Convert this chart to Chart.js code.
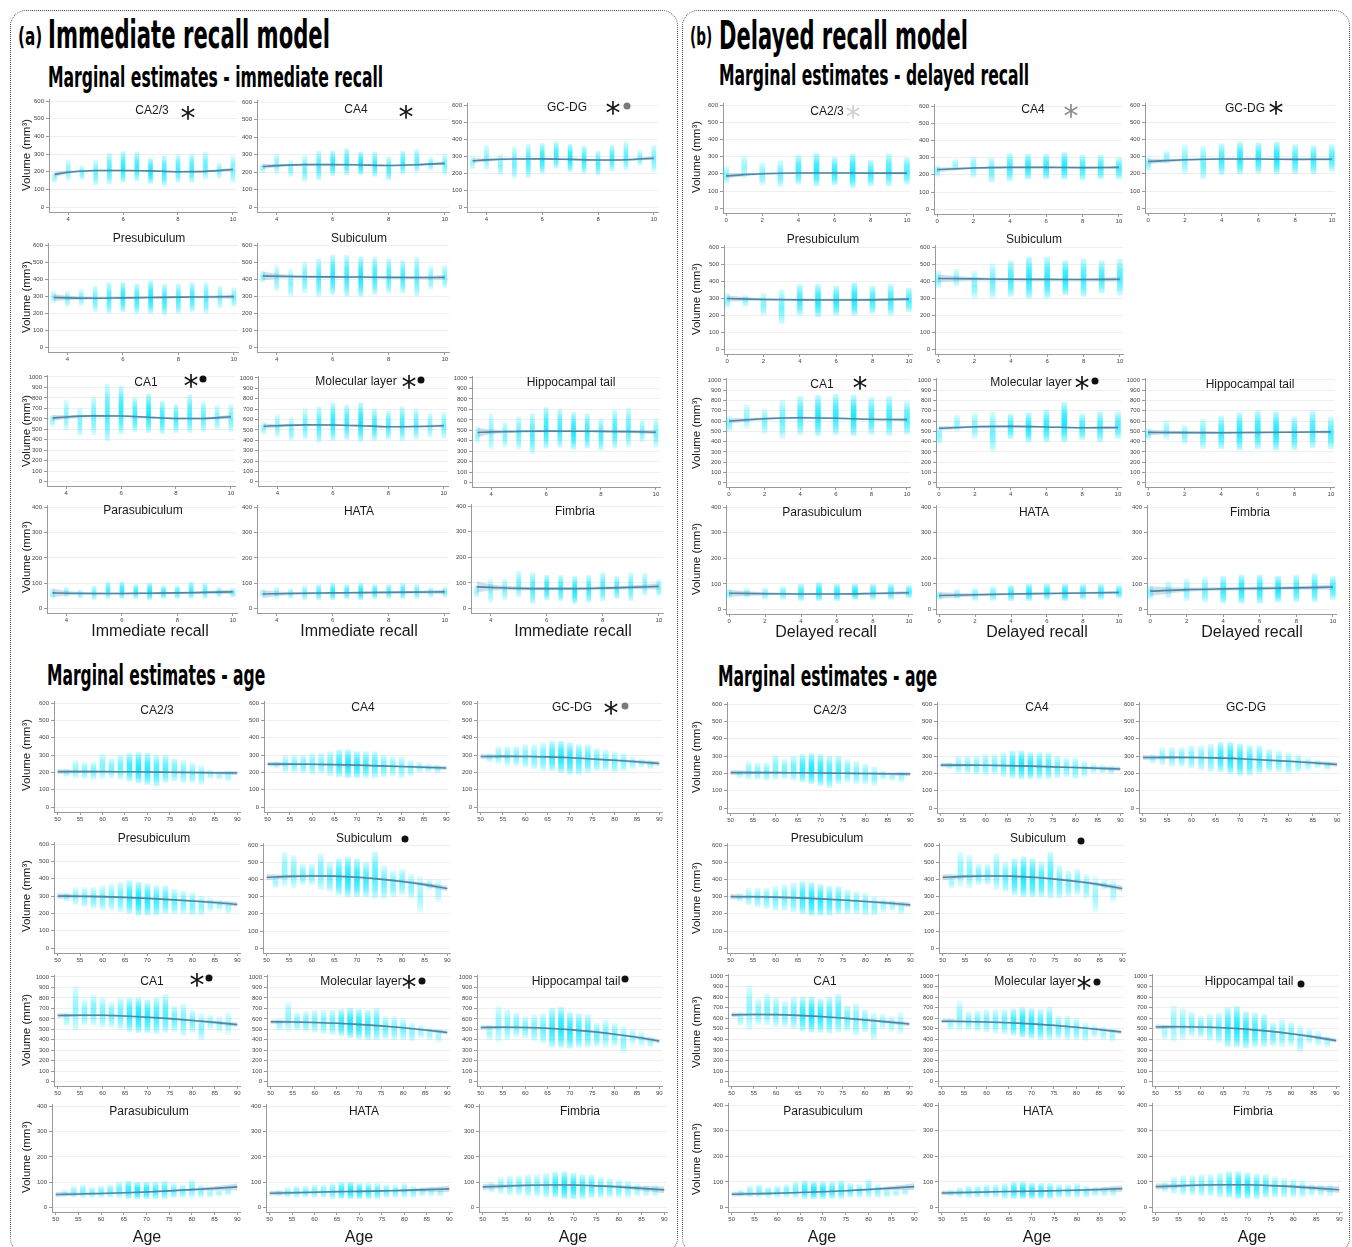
<!DOCTYPE html>
<html><head><meta charset="utf-8">
<script src="https://cdn.jsdelivr.net/npm/chart.js@4.4.1/dist/chart.umd.min.js"></script>
<style>
html,body{margin:0;padding:0;background:#fff;}
#root{position:relative;width:1352px;height:1247px;overflow:hidden;background:#fff;}
.box{position:absolute;border:1.6px dotted #555;border-radius:16px;box-sizing:border-box;}
.big{position:absolute;font-family:"Liberation Sans Narrow","DejaVu Sans Condensed",sans-serif;font-weight:bold;color:#000;line-height:1;white-space:nowrap;transform-origin:0 0;}
.pt{position:absolute;font-family:"Liberation Sans",Arial,sans-serif;font-size:12px;color:#1a1a1a;line-height:1;white-space:nowrap;transform:translate(-50%,-50%);}
.yt{position:absolute;font-family:"Liberation Sans",Arial,sans-serif;font-size:11.5px;color:#1a1a1a;line-height:1;white-space:nowrap;transform:translate(-50%,-50%) rotate(-90deg);}
.xt{position:absolute;font-family:"Liberation Sans",Arial,sans-serif;font-size:16px;color:#1a1a1a;line-height:1;white-space:nowrap;transform:translate(-50%,-50%);}
.ast{position:absolute;font-family:"DejaVu Sans",sans-serif;line-height:1;white-space:nowrap;transform:translateX(-50%);}
.dot{position:absolute;border-radius:50%;width:7px;height:7px;transform:translate(-50%,-50%);}
</style></head><body><div id="root"></div>
<script>
// ===================== DATA =====================
const regions = ['CA2/3','CA4','GC-DG','Presubiculum','Subiculum','CA1','Molecular layer','Hippocampal tail','Parasubiculum','HATA','Fimbria'];
const regionYmax = [600,600,600,600,600,1000,1000,1000,400,400,400];

const immX = [3.5,4,4.5,5,5.5,6,6.5,7,7.5,8,8.5,9,9.5,10];
const immFitX = [3.5,4,5,6,7,8,9,10];
const immTicks = [4,6,8,10];
const immCounts = [3,5,6,8,12,16,14,18,14,12,13,10,6,7];

const delX = [0,1,2,3,4,5,6,7,8,9,10];
const delFitX = [0,2,4,6,8,10];
const delTicks = [0,2,4,6,8,10];
const delCounts = [4,3,5,7,12,15,14,16,12,12,11];

const ageBins = [52,54,56,58,60,62,64,66,68,70,72,74,76,78,80,82,84,86,88];
const ageFitX = [50,55,60,65,70,75,80,85,90];
const ageTicks = [50,55,60,65,70,75,80,85,90];
const ageCounts = [2,5,7,8,8,8,10,18,22,20,16,14,10,8,8,6,3,2,2];

// --- Immediate recall model: marginal estimates of immediate recall ---
const immCA23Fit = [185,197,207,207,205,200,202,213];
const immCA23CI  = [15,8,5,5,5,5,5,10];
const immCA23Lo  = [140,150,155,125,130,140,150,135,120,140,140,160,165,140];
const immCA23Hi  = [195,265,235,265,305,315,310,275,290,295,300,310,250,290];
const immCA4Fit = [232,237,243,243,241,238,242,250];
const immCA4CI  = [14,9,5,5,5,5,6,10];
const immCA4Lo  = [195,190,175,145,155,180,185,185,175,155,190,200,210,185];
const immCA4Hi  = [250,305,265,295,320,320,335,315,315,285,320,330,285,305];
const immGCDGFit = [273,278,283,284,281,277,279,288];
const immGCDGCI  = [15,9,6,5,5,5,6,11];
const immGCDGLo  = [225,220,190,170,175,200,230,210,200,190,215,220,245,210];
const immGCDGHi  = [300,365,310,355,370,375,385,370,360,330,365,385,335,365];
const immPresubFit = [292,290,288,290,292,294,295,297];
const immPresubCI  = [20,12,7,6,6,6,7,12];
const immPresubLo  = [260,240,245,210,200,210,200,200,190,200,210,200,230,240];
const immPresubHi  = [330,330,340,360,380,380,370,390,370,370,380,380,360,350];
const immSubFit = [418,417,414,413,412,410,409,410];
const immSubCI  = [25,15,8,7,7,7,8,14];
const immSubLo  = [380,330,300,320,300,310,300,300,310,320,320,300,340,350];
const immSubHi  = [450,480,460,500,520,540,540,530,530,520,510,530,480,480];
const immCA1Fit = [608,618,628,627,615,603,604,620];
const immCA1CI  = [28,16,10,9,9,9,10,18];
const immCA1Lo  = [530,490,440,450,390,460,480,470,460,470,470,480,500,480];
const immCA1Hi  = [640,780,700,810,930,910,800,840,770,740,830,760,730,740];
const immMolFit = [535,540,548,547,540,530,532,540];
const immMolCI  = [25,14,9,8,8,8,9,15];
const immMolLo  = [460,430,400,410,380,400,410,390,400,410,400,410,430,420];
const immMolHi  = [580,650,620,700,720,760,740,760,700,680,720,700,660,670];
const immTailFit = [480,485,490,493,492,490,488,482];
const immTailCI  = [45,22,12,10,10,10,12,20];
const immTailLo  = [380,320,340,320,280,330,340,320,330,310,330,340,390,340];
const immTailHi  = [540,660,580,630,660,720,700,670,660,610,690,710,600,610];
const immParaFit = [62,61,60,60,61,62,64,66];
const immParaCI  = [17,9,5,4,4,4,5,9];
const immParaLo  = [40,45,40,35,40,40,40,35,40,40,40,40,45,45];
const immParaHi  = [80,85,75,90,105,105,95,100,90,90,105,100,85,80];
const immHATAFit = [58,59,61,62,63,64,65,66];
const immHATACI  = [16,9,5,4,4,4,5,9];
const immHATALo  = [45,40,40,35,35,35,40,35,40,40,40,40,45,45];
const immHATAHi  = [75,85,80,90,95,100,95,100,95,95,100,95,85,85];
const immFimFit = [85,83,79,78,78,80,83,87];
const immFimCI  = [22,12,7,6,6,6,7,12];
const immFimLo  = [45,25,35,45,20,35,30,20,25,30,40,30,50,50];
const immFimHi  = [90,115,115,145,140,130,130,125,130,140,125,140,140,115];

// --- Delayed recall model: marginal estimates of delayed recall ---
const delCA23Fit = [188,200,205,205,204,204];
const delCA23CI  = [14,6,5,5,5,8];
const delCA23Lo  = [145,175,135,125,140,130,135,120,130,130,140];
const delCA23Hi  = [245,305,265,275,310,320,295,315,280,315,295];
const delCA4Fit = [230,240,243,243,242,243];
const delCA4CI  = [13,6,5,5,5,8];
const delCA4Lo  = [190,225,185,155,165,175,175,175,170,175,175];
const delCA4Hi  = [255,290,305,300,325,320,320,330,315,315,300];
const delGCDGFit = [272,282,286,286,284,285];
const delGCDGCI  = [15,7,5,5,5,9];
const delGCDGLo  = [220,260,200,170,195,200,205,200,200,200,215];
const delGCDGHi  = [300,335,370,360,375,385,380,385,370,365,370];
const delPresubFit = [298,292,290,289,290,294];
const delPresubCI  = [18,8,6,6,6,10];
const delPresubLo  = [245,250,200,150,200,190,200,200,210,200,220];
const delPresubHi  = [330,320,330,350,380,380,370,390,370,380,360];
const delSubFit = [415,413,411,410,409,411];
const delSubCI  = [22,10,7,7,7,12];
const delSubLo  = [360,370,300,300,310,300,300,320,310,330,320];
const delSubHi  = [460,470,460,500,520,540,540,520,530,520,530];
const delCA1Fit = [600,622,632,628,617,614];
const delCA1CI  = [25,12,9,9,9,16];
const delCA1Lo  = [500,530,480,430,470,460,470,460,470,460,470];
const delCA1Hi  = [650,760,720,800,840,850,860,850,830,840,790];
const delMolFit = [530,545,548,543,535,537];
const delMolCI  = [20,10,8,8,8,13];
const delMolLo  = [380,500,430,310,430,400,400,400,420,400,430];
const delMolHi  = [550,660,680,690,670,680,710,780,670,690,690];
const delTailFit = [490,488,487,489,492,495];
const delTailCI  = [28,12,9,9,9,15];
const delTailLo  = [420,420,380,330,330,320,330,320,320,340,330];
const delTailHi  = [530,610,560,620,650,680,700,690,640,700,640];
const delParaFit = [64,62,61,61,63,66];
const delParaCI  = [14,6,4,4,4,7];
const delParaLo  = [45,45,40,40,35,35,35,40,40,40,45];
const delParaHi  = [80,85,85,90,100,105,100,100,100,100,95];
const delHATAFit = [55,58,61,63,65,67];
const delHATACI  = [13,6,4,4,4,7];
const delHATALo  = [40,40,35,35,35,35,40,35,40,40,45];
const delHATAHi  = [70,80,85,90,95,100,100,100,100,100,95];
const delFimFit = [72,78,81,83,85,88];
const delFimCI  = [18,8,6,6,6,10];
const delFimLo  = [40,45,35,30,25,25,25,30,30,30,40];
const delFimHi  = [95,110,120,125,130,135,135,130,135,140,130];

// --- Marginal estimates of age ---
const ageCA23Fit = [205,205,205,204,203,201,200,198,197];
const ageCA23CI  = [14,8,5,4,4,4,5,8,12];
const ageCA23Lo  = [175,165,165,160,165,170,160,150,140,130,120,140,150,140,140,130,165,160,150];
const ageCA23Hi  = [220,270,260,260,305,280,300,310,315,310,300,300,280,270,255,240,215,200,210];
const ageCA4Fit = [248,248,247,245,242,238,234,230,226];
const ageCA4CI  = [14,8,5,4,4,4,5,8,12];
const ageCA4Lo  = [225,200,200,195,190,195,180,175,170,170,170,170,175,180,170,180,200,200,195];
const ageCA4Hi  = [265,300,300,300,310,310,320,330,330,320,320,320,300,290,290,270,260,250,245];
const ageGCDGFit = [292,293,292,290,285,278,270,262,252];
const ageGCDGCI  = [15,9,6,5,5,5,6,9,13];
const ageGCDGLo  = [260,250,240,240,230,220,210,210,200,190,190,200,210,210,200,210,220,230,220];
const ageGCDGHi  = [310,350,350,350,360,360,370,380,380,370,360,360,340,330,320,310,290,280,270];
const agePresubFit = [300,299,297,293,287,280,272,263,252];
const agePresubCI  = [16,9,6,5,5,5,6,10,14];
const agePresubLo  = [270,250,240,230,220,220,210,200,190,190,190,200,200,200,190,190,210,220,200];
const agePresubHi  = [320,350,350,350,360,370,380,390,380,370,360,360,340,330,320,300,290,280,270];
const ageSubFit = [412,418,420,419,413,402,388,370,347];
const ageSubCI  = [18,10,7,6,6,6,7,11,16];
const ageSubLo  = [350,360,350,370,370,340,330,310,300,300,300,290,290,300,310,290,210,340,270];
const ageSubHi  = [420,560,540,490,490,550,500,520,530,520,500,560,480,450,460,430,420,400,400];
const ageCA1Fit = [632,635,634,627,616,602,585,566,545];
const ageCA1CI  = [22,12,9,8,8,8,9,14,20];
const ageCA1Lo  = [530,490,540,540,520,520,500,480,470,470,460,470,480,440,470,400,500,470,450];
const ageCA1Hi  = [660,910,780,830,800,760,800,800,800,780,800,830,720,740,680,650,640,620,660];
const ageMolFit = [572,570,565,558,547,533,515,494,470];
const ageMolCI  = [20,11,8,7,7,7,8,12,18];
const ageMolLo  = [490,480,490,480,470,460,450,440,420,410,400,400,410,400,400,390,420,400,380];
const ageMolHi  = [600,760,660,670,680,680,680,690,700,690,680,700,620,620,600,560,540,520,500];
const ageTailFit = [518,520,518,510,497,478,454,424,388];
const ageTailCI  = [22,12,9,8,8,8,9,14,20];
const ageTailLo  = [400,380,400,430,420,390,370,330,330,320,330,330,340,330,340,280,360,340,330];
const ageTailHi  = [540,720,690,660,620,640,650,700,710,660,650,640,560,590,560,530,500,480,430];
const ageParaFit = [52,54,56,59,62,66,71,76,82];
const ageParaCI  = [10,6,4,3,3,3,4,8,13];
const ageParaLo  = [45,40,40,40,40,40,40,35,35,35,35,35,40,40,40,40,40,45,50];
const ageParaHi  = [70,85,90,80,85,90,100,105,100,100,100,105,95,90,110,90,75,70,75];
const ageHATAFit = [57,59,61,63,64,66,68,71,74];
const ageHATACI  = [10,6,4,3,3,3,4,8,12];
const ageHATALo  = [45,40,40,40,40,40,35,35,35,35,35,35,40,40,40,40,45,45,45];
const ageHATAHi  = [70,80,85,85,90,90,95,100,100,95,95,95,90,90,95,85,80,80,80];
const ageFimFit = [82,85,88,89,89,86,82,76,70];
const ageFimCI  = [12,7,5,4,4,4,5,9,13];
const ageFimLo  = [60,55,50,50,45,45,40,40,35,35,35,40,40,40,40,40,45,45,45];
const ageFimHi  = [100,120,125,125,130,130,135,140,140,135,130,130,120,115,110,105,95,90,90];

const immPanels = [
  [immCA23Fit,immCA23CI,immCA23Lo,immCA23Hi],[immCA4Fit,immCA4CI,immCA4Lo,immCA4Hi],
  [immGCDGFit,immGCDGCI,immGCDGLo,immGCDGHi],[immPresubFit,immPresubCI,immPresubLo,immPresubHi],
  [immSubFit,immSubCI,immSubLo,immSubHi],[immCA1Fit,immCA1CI,immCA1Lo,immCA1Hi],
  [immMolFit,immMolCI,immMolLo,immMolHi],[immTailFit,immTailCI,immTailLo,immTailHi],
  [immParaFit,immParaCI,immParaLo,immParaHi],[immHATAFit,immHATACI,immHATALo,immHATAHi],
  [immFimFit,immFimCI,immFimLo,immFimHi]];
const delPanels = [
  [delCA23Fit,delCA23CI,delCA23Lo,delCA23Hi],[delCA4Fit,delCA4CI,delCA4Lo,delCA4Hi],
  [delGCDGFit,delGCDGCI,delGCDGLo,delGCDGHi],[delPresubFit,delPresubCI,delPresubLo,delPresubHi],
  [delSubFit,delSubCI,delSubLo,delSubHi],[delCA1Fit,delCA1CI,delCA1Lo,delCA1Hi],
  [delMolFit,delMolCI,delMolLo,delMolHi],[delTailFit,delTailCI,delTailLo,delTailHi],
  [delParaFit,delParaCI,delParaLo,delParaHi],[delHATAFit,delHATACI,delHATALo,delHATAHi],
  [delFimFit,delFimCI,delFimLo,delFimHi]];
const agePanels = [
  [ageCA23Fit,ageCA23CI,ageCA23Lo,ageCA23Hi],[ageCA4Fit,ageCA4CI,ageCA4Lo,ageCA4Hi],
  [ageGCDGFit,ageGCDGCI,ageGCDGLo,ageGCDGHi],[agePresubFit,agePresubCI,agePresubLo,agePresubHi],
  [ageSubFit,ageSubCI,ageSubLo,ageSubHi],[ageCA1Fit,ageCA1CI,ageCA1Lo,ageCA1Hi],
  [ageMolFit,ageMolCI,ageMolLo,ageMolHi],[ageTailFit,ageTailCI,ageTailLo,ageTailHi],
  [ageParaFit,ageParaCI,ageParaLo,ageParaHi],[ageHATAFit,ageHATACI,ageHATALo,ageHATAHi],
  [ageFimFit,ageFimCI,ageFimLo,ageFimHi]];

// ===================== LAYOUT =====================
// per cell: [first tick px, last tick px, top tick px, zero tick px, title cx, title cy]
const layAImm = [[68,233,101,207,152,110],[277,445,102,207,356,109],[486,653,105,207,567,107],
  [67,233,245,347,149,238],[277,445,245,347,359,238],
  [66,231,377,482,146,382],[277,443,378,482,356,381],[491,656,378,483,571,382],
  [66,232,507,609,143,510],[277,445,507,609,359,511],[491,659,506,609,575,511]];
const layAAge = [[58,238,703,807,157,710],[268,447,703,807,363,707],[481,660,703,807,572,707],
  [58,238,844,948,154,838],[267,448,845,948,364,838],
  [58,238,977,1082,152,981],[271,448,977,1082,361,981],[481,660,977,1082,576,981],
  [56,238,1106,1208,149,1111],[270,450,1106,1208,364,1111],[483,665,1106,1208,580,1111]];
const layBDel = [[726,907,105,208,827,111],[937,1119,106,209,1033,109],[1148,1332,105,208,1245,108],
  [727,909,247,349,823,239],[938,1120,247,349,1034,239],
  [729,907,380,483,822,384],[939,1118,380,483,1031,382],[1148,1331,380,483,1250,384],
  [729,909,507,610,822,512],[939,1119,507,610,1034,512],[1150,1333,507,610,1250,512]];
const layBAge = [[731,911,704,808,830,710],[941,1121,704,808,1037,707],[1143,1337,704,808,1246,707],
  [731,911,845,948,827,838],[943,1123,845,948,1038,838],
  [732,910,976,1082,825,981],[942,1122,976,1082,1035,981],[1156,1337,976,1082,1249,981],
  [732,915,1105,1208,823,1111],[942,1123,1105,1208,1038,1111],[1156,1340,1105,1208,1253,1111]];

const KIND = {
  imm:{min:3.3,max:10.15,first:4,last:10,ticks:immTicks,X:immX,fitX:immFitX,counts:immCounts,bw:4},
  del:{min:-0.17,max:10.17,first:0,last:10,ticks:delTicks,X:delX,fitX:delFitX,counts:delCounts,bw:5},
  age:{min:49.2,max:90.6,first:50,last:90,ticks:ageTicks,X:ageBins,fitX:ageFitX,counts:ageCounts,bw:5}
};
const YR = {600:[-28,612],1000:[-40,1018],400:[-17,408]};

const root = document.getElementById('root');
function addText(cls, txt, css){
  const d = document.createElement('div'); d.className = cls; d.textContent = txt;
  Object.assign(d.style, css); root.appendChild(d); return d;
}
function box(l,t,r,b){ const d=document.createElement('div'); d.className='box';
  Object.assign(d.style,{left:l+'px',top:t+'px',width:(r-l)+'px',height:(b-t)+'px'}); root.appendChild(d); }
function bigTitle(txt, left, top, size, targetW){
  const d = addText('big', txt, {left:left+'px', top:top+'px', fontSize:size+'px'});
  const w = d.offsetWidth; d.style.transform = 'scaleX(' + (targetW/w) + ')';
}
function ast(cx, cy, color){ const F=30;
  addText('ast','*',{left:cx+'px', top:(cy-0.30*F)+'px', fontSize:F+'px', color:color}); }
function dot(cx, cy, color){ const d=document.createElement('div'); d.className='dot';
  Object.assign(d.style,{left:cx+'px',top:cy+'px',background:color}); root.appendChild(d); }

function buildCell(kindKey, idx, data, cell){
  const k = KIND[kindKey]; const ymax = regionYmax[idx]; const yr = YR[ymax];
  const [x0,x1,yT,yZ,tx,ty] = cell;
  const ppx = (x1-x0)/(k.last-k.first);
  const aL = x0 - (k.first-k.min)*ppx, aR = x1 + (k.max-k.last)*ppx;
  const ppy = (yZ-yT)/ymax;
  const aT = yT - (yr[1]-ymax)*ppy, aB = yZ + (-yr[0])*ppy;
  const YW=26, XH=12, PT=6, PR=7;
  const L = Math.round(aL-YW), T = Math.round(aT-PT);
  const W = Math.round(aR-aL+YW+PR), H = Math.round(aB-aT+PT+XH);
  const cv = document.createElement('canvas'); cv.width=W; cv.height=H;
  cv.style.cssText = 'position:absolute;left:'+L+'px;top:'+T+'px;width:'+W+'px;height:'+H+'px';
  root.appendChild(cv);
  const [fit, ci, lo, hi] = data;
  const maxC = Math.max(...k.counts);
  const alphaOf = i => 0.3 + 0.6*k.counts[i]/maxC;
  const barColor = (ctx) => {
    const i = ctx.dataIndex;
    if (i === undefined) return 'rgba(0,232,255,0.5)';
    const a = alphaOf(i);
    const ys = ctx.chart.scales && ctx.chart.scales.y;
    if (!ys || ys.top === undefined) return 'rgba(0,232,255,'+a.toFixed(2)+')';
    const yTop = ys.getPixelForValue(hi[i]), yBot = ys.getPixelForValue(lo[i]);
    if (!isFinite(yTop) || !isFinite(yBot) || yBot - yTop < 1) return 'rgba(0,232,255,'+a.toFixed(2)+')';
    const g = ctx.chart.ctx.createLinearGradient(0, yTop, 0, yBot);
    g.addColorStop(0, 'rgba(0,232,255,'+(a*0.25).toFixed(3)+')');
    g.addColorStop(0.3, 'rgba(0,232,255,'+(a*0.8).toFixed(3)+')');
    g.addColorStop(0.55, 'rgba(0,232,255,'+a.toFixed(3)+')');
    g.addColorStop(0.8, 'rgba(0,232,255,'+(a*0.7).toFixed(3)+')');
    g.addColorStop(1, 'rgba(0,232,255,'+(a*0.25).toFixed(3)+')');
    return g;
  };
  const yticks = []; for (let v=0; v<=ymax; v+=100) yticks.push(v);
  const tickFont = {family:'"Liberation Sans", Arial, sans-serif', size:6};
  new Chart(cv, {
    type:'line',
    data:{datasets:[
      {type:'line', data:k.fitX.map((x,i)=>({x, y:fit[i]})), borderColor:'#4f87a6', borderWidth:1.6,
       pointRadius:0, cubicInterpolationMode:'monotone', fill:false, order:0},
      {type:'line', data:k.fitX.map((x,i)=>({x, y:fit[i]+ci[i]})), borderWidth:0, borderColor:'rgba(0,0,0,0)',
       pointRadius:0, cubicInterpolationMode:'monotone', fill:'+1', backgroundColor:'rgba(120,170,200,0.38)', order:1},
      {type:'line', data:k.fitX.map((x,i)=>({x, y:fit[i]-ci[i]})), borderWidth:0, borderColor:'rgba(0,0,0,0)',
       pointRadius:0, cubicInterpolationMode:'monotone', fill:false, order:2},
      {type:'bar', data:k.X.map((x,i)=>({x, y:[lo[i],hi[i]]})), barThickness:k.bw, grouped:false,
       backgroundColor:barColor, borderWidth:0, order:3}
    ]},
    options:{
      responsive:false, animation:false, devicePixelRatio:1,
      layout:{padding:{top:PT, right:PR, left:0, bottom:0}},
      plugins:{legend:{display:false}, tooltip:{enabled:false}},
      scales:{
        x:{type:'linear', min:k.min, max:k.max, offset:false,
           afterBuildTicks:s=>{s.ticks=k.ticks.map(v=>({value:v}));},
           afterFit:s=>{s.height=XH;},
           ticks:{font:tickFont, color:'#444', padding:1, maxRotation:0, autoSkip:false, callback:v=>String(v)},
           grid:{drawOnChartArea:false, offset:false, tickLength:3, tickColor:'#999'},
           border:{display:true, color:'#9a9a9a', width:1}},
        y:{type:'linear', min:yr[0], max:yr[1],
           afterBuildTicks:s=>{s.ticks=yticks.map(v=>({value:v}));},
           afterFit:s=>{s.width=YW;},
           ticks:{font:tickFont, color:'#444', padding:2, autoSkip:false, callback:v=>String(v)},
           grid:{color:'#efefef', tickLength:3, tickColor:'#999'},
           border:{display:true, color:'#9a9a9a', width:1}}
      }
    }
  });
  addText('pt', regions[idx], {left:tx+'px', top:ty+'px'});
}

// ===================== DRAW =====================
box(10,10,678,1254); box(682,10,1350,1254);

bigTitle('(a)', 18, 25, 24, 24);
bigTitle('Immediate recall model', 48, 15, 39, 282);
bigTitle('Marginal estimates - immediate recall', 48, 63, 29, 335);
bigTitle('Marginal estimates - age', 47, 661, 29, 218);
bigTitle('(b)', 690, 25, 24, 22);
bigTitle('Delayed recall model', 719, 16, 39, 249);
bigTitle('Marginal estimates - delayed recall', 719, 61, 29, 310);
bigTitle('Marginal estimates - age', 718, 662, 29, 219);

for (let i=0;i<11;i++){
  buildCell('imm', i, immPanels[i], layAImm[i]);
  buildCell('age', i, agePanels[i], layAAge[i]);
  buildCell('del', i, delPanels[i], layBDel[i]);
  buildCell('age', i, agePanels[i], layBAge[i]);
}

// axis titles
[155,297,431,557, 755,896,1030,1157].forEach(y=>{
  addText('yt','Volume (mm³)',{left:'27px', top:y+'px'});
  addText('yt','Volume (mm³)',{left:'697px', top:(y+2)+'px'});
});
[[150,'Immediate recall'],[359,'Immediate recall'],[573,'Immediate recall']].forEach(([x,t])=>addText('xt',t,{left:x+'px',top:'631px'}));
[[826,'Delayed recall'],[1037,'Delayed recall'],[1252,'Delayed recall']].forEach(([x,t])=>addText('xt',t,{left:x+'px',top:'632px'}));
[147,359,573,822,1037,1252].forEach(x=>addText('xt','Age',{left:x+'px',top:'1237px'}));

// significance markers
const BLK='#111', GRY='#7a7a7a', LGR='#cfcfcf', MGR='#8a8a8a';
ast(188,112,BLK); ast(406,111,BLK); ast(613,107,BLK); dot(627,106,GRY);
ast(191,380,BLK); dot(203,379,BLK); ast(409,381,BLK); dot(421,380,BLK);
ast(611,707,BLK); dot(625,706,GRY); dot(405,839,BLK);
ast(197,979,BLK); dot(209,978,BLK); ast(409,981,BLK); dot(422,981,BLK); dot(625,979,BLK);
ast(853,111,LGR); ast(1071,110,MGR); ast(1276,107,BLK); ast(860,382,BLK);
ast(1082,382,BLK); dot(1095,381,BLK);
dot(1081,841,BLK); ast(1084,982,BLK); dot(1097,982,BLK); dot(1301,984,BLK);
</script></body></html>
